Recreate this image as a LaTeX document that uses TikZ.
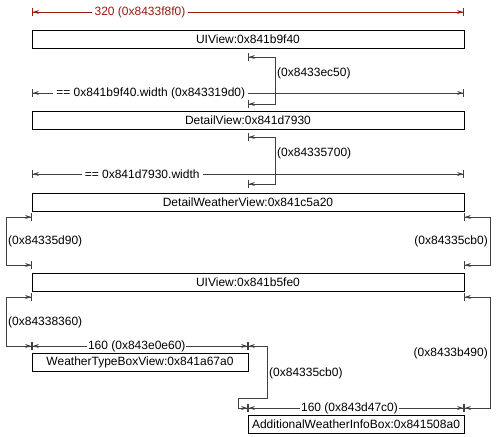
\documentclass[tikz,border=0pt]{standalone}
\usepackage{fontspec}
\setmainfont{Liberation Sans}
\usepackage{tikz}
\usetikzlibrary{arrows.meta}
\definecolor{dimred}{RGB}{153,27,16}

\begin{document}
\begin{tikzpicture}[x=1pt, y=-1pt,
  font=\fontsize{12}{14}\selectfont,
  box/.style={draw, line width=1pt, inner sep=0pt, minimum height=18pt},
  dim/.style={line width=0.8pt, draw=#1, {Bar[width=8pt]Stealth[length=6pt,width=4pt]}-{Stealth[length=6pt,width=4pt]Bar[width=8pt]}},
  dim/.default=black!75,
  lbl/.style={fill=white, inner sep=3pt},
  tag/.style={inner sep=2pt}]
\useasboundingbox (0,0) rectangle (496,437);
\node[box, minimum width=432pt] (uiview) at (248,39) {UIView:0x841b9f40};
\node[box, minimum width=432pt] (detailview) at (248,120) {DetailView:0x841d7930};
\node[box, minimum width=432pt] (weatherview) at (248,202) {DetailWeatherView:0x841c5a20};
\node[box, minimum width=432pt] (innerview) at (248,282) {UIView:0x841b5fe0};
\node[box, minimum width=216pt] (typebox) at (140,362) {WeatherTypeBoxView:0x841a67a0};
\node[box, minimum width=216pt] (infobox) at (356,424) {AdditionalWeatherInfoBox:0x841508a0};
\coordinate (r1) at (32,12);
\coordinate (r2) at (464,12);
\coordinate (c1a) at (248,57);
\coordinate (c1b) at (248,104);
\coordinate (w1a) at (32,93);
\coordinate (w1b) at (464,93);
\coordinate (c2a) at (248,137);
\coordinate (c2b) at (248,184);
\coordinate (w2a) at (32,174);
\coordinate (w2b) at (464,174);
\coordinate (c3a) at (32,217);
\coordinate (c3b) at (32,265);
\coordinate (c4a) at (464,217);
\coordinate (c4b) at (464,265);
\coordinate (c5a) at (32,297);
\coordinate (c5b) at (32,346);
\coordinate (c6a) at (464,297);
\coordinate (c6b) at (464,408);
\coordinate (c7a) at (248,346);
\coordinate (c7b) at (248,408);
\draw[dim=dimred] (r1) -- node[lbl, text=dimred, pos=0.25] (rlbl) {320 (0x8433f8f0)} (r2);
\draw[dim] (c1a) -- ++(27,0) |- (c1b);
\node[tag, anchor=west] (l1) at (275,73) {(0x8433ec50)};
\draw[dim] (w1a) -- node[lbl, pos=0.275] (w1lbl) {== 0x841b9f40.width (0x843319d0)} (w1b);
\draw[dim] (c2a) -- ++(27,0) |- (c2b);
\node[tag, anchor=west] (l2) at (275,153) {(0x84335700)};
\draw[dim] (w2a) -- node[lbl, pos=0.255] (w2lbl) {== 0x841d7930.width} (w2b);
\draw[dim] (c3a) -- ++(-26,0) |- (c3b);
\node[tag, anchor=west] (l3) at (6,241) {(0x84335d90)};
\draw[dim] (c4a) -- ++(26,0) |- (c4b);
\node[tag, anchor=east] (l4) at (490,241) {(0x84335cb0)};
\draw[dim] (c5a) -- ++(-26,0) |- (c5b);
\node[tag, anchor=west] (l5) at (6,322) {(0x84338360)};
\draw[dim] (c6a) -- ++(26,0) |- (c6b);
\node[tag, anchor=east] (l6) at (490,353) {(0x8433b490)};
\draw[dim] (c5b) -- node[lbl, inner sep=1pt, pos=0.485] (w3lbl) {160 (0x843e0e60)} (c7a);
\draw[dim] (c7a) -- ++(19,0) -- ++(0,52) -- ++(-29,0) |- (c7b);
\node[tag, anchor=west] (l7) at (267,373) {(0x84335cb0)};
\draw[dim] (c7b) -- node[lbl, inner sep=1pt, pos=0.47] (w4lbl) {160 (0x843d47c0)} (c6b);
\end{tikzpicture}
\end{document}
